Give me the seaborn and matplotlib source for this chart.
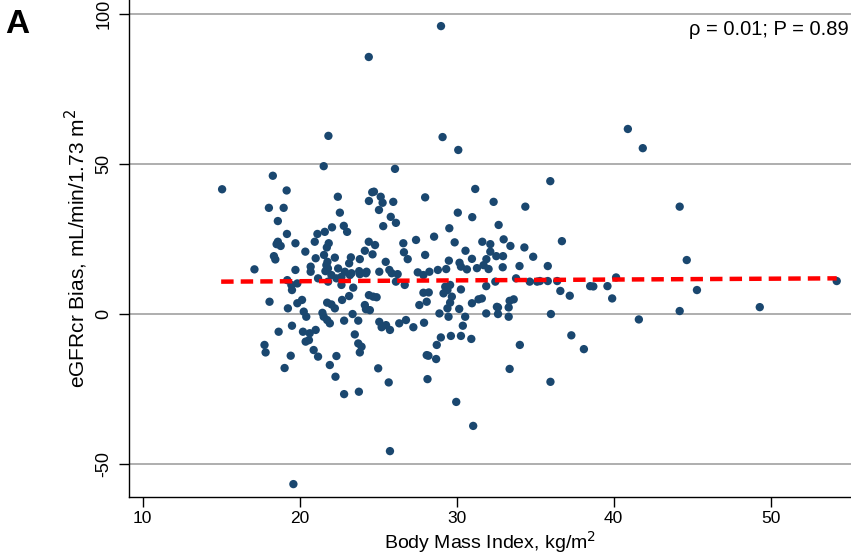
import numpy as np
import pandas as pd
import matplotlib
matplotlib.use("Agg")
import matplotlib.pyplot as plt
import seaborn as sns

# значення
bmi = [15.06, 24.4, 29.0, 29.1, 30.1, 21.83, 40.9, 41.85, 44.2, 44.65, 45.3, 49.3, 54.2, 44.2, 41.6, 19.6,
       35.96, 36.7, 35.8, 35.8, 36.4, 35.3, 36.6, 37.2, 36.0, 37.3, 38.1, 38.5, 38.7, 39.6, 40.15, 39.9,
       21.53, 18.29, 19.17, 22.43, 18.04, 18.98, 24.41, 24.62, 22.56, 18.61, 22.81, 23.02, 19.19, 22.06,
       21.6, 21.13, 18.61, 18.79, 18.53, 19.73, 20.96, 21.85, 21.73, 20.36, 18.36, 18.45, 21.55, 21.02,
       22.24, 23.26, 21.77, 23.83, 24.4, 24.15, 24.8, 20.7, 17.12, 19.73, 21.64, 22.45, 23.15, 22.88,
       23.3, 23.79, 24.26, 22.02, 22.34, 22.66, 20.7, 21.17, 21.81, 19.21, 19.47, 19.85, 19.51, 22.66,
       23.41, 23.15, 24.41, 18.08, 20.15, 19.85, 21.75, 22.02, 22.7, 24.15, 24.68, 19.25,
       26.07, 24.73, 25.16, 25.28, 25.96, 27.99, 25.05, 25.8, 26.13, 25.32, 26.6, 27.41,
       31.18, 32.35, 34.37, 30.07, 30.99, 32.67, 29.53, 28.56, 29.87, 31.63, 32.14, 32.99, 33.42, 34.31,
       24.64, 26.64, 26.88, 27.99, 30.56, 30.97, 31.89, 32.14, 32.52, 32.95, 34.87, 25.48, 29.5, 30.18,
       30.27, 30.65, 31.29, 31.71, 32.03, 32.93, 34.0, 25.07, 25.71, 25.86, 27.52, 27.88, 28.26, 28.8,
       29.33, 26.13, 26.69, 29.27, 29.41, 29.58, 30.27, 31.88, 32.46, 33.78, 34.65, 35.12, 27.88, 28.22,
       29.16, 29.69, 24.9, 27.62, 29.58, 30.97, 31.39, 31.6, 32.56, 33.37, 33.63, 29.41, 30.16,
       21.7, 21.8, 26.24, 24.22, 23.2, 23.83, 28.09, 20.26, 22.24, 24.22, 21.45, 21.53, 21.75, 21.92,
       22.83, 23.37, 23.73, 25.07, 25.22, 25.5, 25.75, 26.34, 26.77, 27.24, 27.92, 20.21, 20.64, 21.02,
       20.38, 20.59, 23.51, 23.73, 23.94, 20.89, 21.17, 22.34, 21.92, 25.0, 28.09,
       20.42, 18.66, 19.51, 17.76, 17.83, 19.43, 19.04, 22.28, 22.83, 23.77, 23.83,
       24.47, 28.9, 29.48, 30.54, 30.39, 28.99, 29.63, 30.27, 30.93, 28.73, 28.2, 28.69, 25.67, 28.14,
       29.97, 31.05, 25.75, 31.88, 32.63, 32.63, 33.31, 33.31, 34.02, 33.37, 35.97]

bias = [41.6, 85.7, 96.0, 59.0, 54.7, 59.4, 61.7, 55.3, 35.8, 18.0, 8.0, 2.3, 11.0, 1.0, -1.8, -56.7,
        44.3, 24.3, 16.0, 11.0, 11.0, 11.0, 7.7, 6.1, 0.0, -7.1, -11.7, 9.3, 9.2, 9.3, 12.2, 5.2,
        49.3, 46.1, 41.2, 39.1, 35.4, 35.4, 37.7, 40.6, 33.8, 31.0, 29.4, 27.4, 26.7, 28.9,
        27.4, 26.7, 24.1, 22.7, 23.3, 23.6, 24.1, 23.6, 22.2, 20.8, 19.3, 18.2, 19.7, 18.6,
        18.8, 18.9, 17.4, 18.3, 24.1, 21.1, 23.0, 15.8, 14.9, 14.7, 14.3, 15.2, 16.9, 14.1,
        13.6, 14.3, 14.1, 13.0, 11.9, 12.4, 14.1, 11.9, 10.8, 11.3, 9.7, 10.2, 8.0, 9.7,
        8.8, 6.0, 6.3, 4.1, 4.7, 3.6, 3.8, 3.2, 4.7, 3.0, 5.8, 1.9,
        48.4, 40.8, 39.1, 37.1, 37.4, 38.9, 34.7, 32.4, 30.4, 29.3, 23.6, 24.7,
        41.7, 37.4, 35.8, 33.8, 32.3, 29.7, 28.6, 25.8, 23.9, 24.1, 23.3, 24.9, 22.7, 22.2,
        19.9, 20.6, 18.3, 19.7, 21.1, 18.4, 18.3, 20.8, 19.3, 19.3, 19.1, 17.4, 17.8, 17.1,
        15.8, 14.9, 15.3, 16.3, 15.0, 15.6, 16.0, 14.1, 14.7, 13.6, 13.9, 13.0, 14.1, 14.7,
        15.0, 10.8, 9.7, 9.1, 8.0, 9.7, 8.2, 9.3, 10.8, 11.9, 10.8, 10.8, 7.1, 7.2,
        6.9, 5.8, 5.6, 3.0, 3.8, 3.6, 4.9, 5.2, 2.4, 4.4, 4.9, 1.9, 1.7,
        16.3, 15.2, 13.3, 13.6, 13.0, 13.3, 4.1, 0.8, 1.9, 1.6, 0.4, -0.9, -2.0, -3.1,
        -2.2, 0.0, -2.2, -2.6, -4.4, -3.7, -5.3, -3.1, -2.0, -4.4, -2.9, -5.9, -6.4, -5.3,
        -9.2, -8.7, -6.8, -9.8, -10.9, -12.0, -14.2, -14.0, -17.0, -18.1, -13.7,
        -0.9, -5.9, -3.9, -10.3, -12.8, -13.9, -18.0, -20.9, -26.7, -25.9, -12.8,
        1.3, 0.2, -0.9, -0.9, -3.9, -7.8, -7.3, -7.3, -8.3, -10.3, -13.9, -15.0, -22.8, -21.7,
        -29.3, -37.3, -45.7, 0.2, 0.0, 2.2, 2.2, -0.9, -10.3, -18.3, -22.6]

# лінія регресії (кінці)
fit_bmi = [15.0, 54.2]
fit_bias = [10.8, 11.9]

x_ticks = [10, 20, 30, 40, 50]
y_ticks = [-50, 0, 50, 100]

df = pd.DataFrame({"bmi": bmi, "bias": bias})
fit_df = pd.DataFrame({"bmi": fit_bmi, "bias": fit_bias})

sns.set_style("white")
plt.rcParams["font.family"] = ["Liberation Sans", "DejaVu Sans"]
plt.rcParams["text.color"] = "black"
plt.rcParams["axes.labelcolor"] = "black"
plt.rcParams["xtick.color"] = "black"
plt.rcParams["ytick.color"] = "black"
plt.rcParams["axes.unicode_minus"] = False

fig = plt.figure(figsize=(8.51, 5.54), dpi=100)
ax = fig.add_axes([129.3 / 851, 57.3 / 554, 721.7 / 851, 496.7 / 554])

ax.set_xlim(9.15, 55.11)
ax.set_ylim(-60.9, 104.7)

for yv in y_ticks:
    ax.axhline(yv, color="#a8a8a8", lw=1.3, zorder=0)

sns.scatterplot(data=df, x="bmi", y="bias", ax=ax, color="#1a476f",
                s=36, edgecolor="none", linewidth=0, zorder=3)
sns.lineplot(data=fit_df, x="bmi", y="bias", ax=ax, color="#ff0000",
             lw=3.2, dashes=False, zorder=4).lines[-1].set_dashes((2.8, 1.6))

ax.set_xticks(x_ticks)
ax.set_yticks(y_ticks)
ax.tick_params(axis="both", direction="out", length=7, width=1,
               labelsize=13, left=True, bottom=True)
ax.tick_params(axis="x", labelsize=12.5, pad=3)
ax.tick_params(axis="y", pad=5)
plt.setp(ax.get_yticklabels(), rotation=90, va="center")

for side in ["top", "right"]:
    ax.spines[side].set_visible(False)
for side in ["left", "bottom"]:
    ax.spines[side].set_color("black")
    ax.spines[side].set_linewidth(1)

ax.set_xlabel("Body Mass Index, kg/m$^2$", fontsize=14)
ax.xaxis.set_label_coords(0.5, -0.104)
ax.xaxis.label.set_va("baseline")
ax.set_ylabel("eGFRcr Bias, mL/min/1.73 m$^2$", fontsize=15, labelpad=4)

ax.text(0.997, 0.929, "ρ = 0.01; P = 0.89", transform=ax.transAxes,
        ha="right", va="baseline", fontsize=14.5)
fig.text(0.006, 0.94, "A", fontsize=24, fontweight="bold", ha="left", va="baseline")

fig.savefig("out.png", dpi=100)
